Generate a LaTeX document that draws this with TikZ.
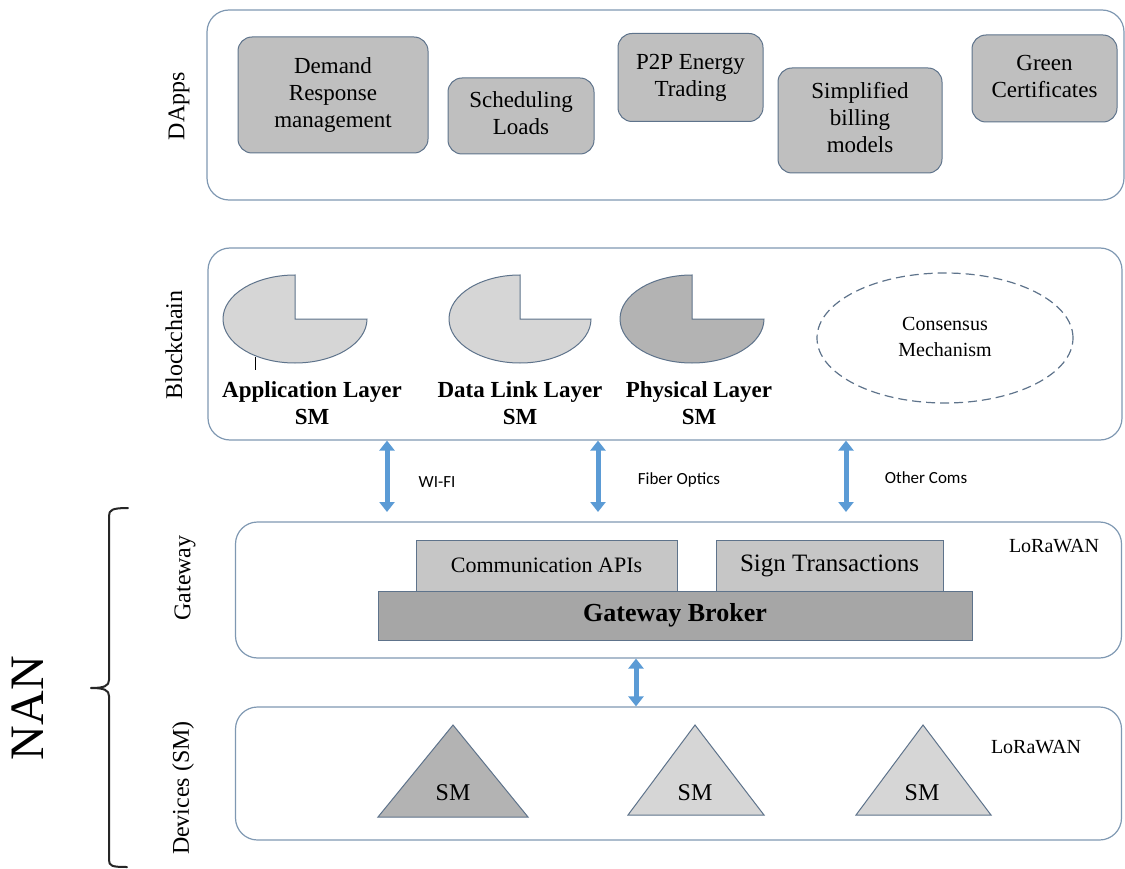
\documentclass[tikz,border=0pt]{standalone}
\usepackage{fontspec}
\setmainfont{Liberation Serif}
\setsansfont{Carlito}
\usetikzlibrary{arrows.meta,shapes.geometric}
\definecolor{outerc}{HTML}{7F98B2}
\definecolor{innerc}{HTML}{5E738B}
\definecolor{boxfill}{HTML}{BFBFBF}
\definecolor{lightfill}{HTML}{D6D6D6}
\definecolor{midfill}{HTML}{B3B3B3}
\definecolor{arrowc}{HTML}{5B9BD5}
\definecolor{brokerfill}{HTML}{A6A6A6}
\definecolor{apifill}{HTML}{C6C6C6}
\newcommand{\stk}[1]{\begin{tabular}{@{}c@{}}#1\end{tabular}}
\begin{document}
\begin{tikzpicture}[x=1pt,y=-1pt,
  layer/.style={draw=outerc, line width=1.2pt, rounded corners=22pt, inner sep=0pt},
  appbox/.style={draw=innerc, fill=boxfill, line width=1pt, rounded corners=14pt, inner sep=0pt, font=\rmfamily\fontsize{23}{27}\selectfont},
  side/.style={rotate=90, font=\rmfamily\fontsize{24}{28}\selectfont},
  piece/.style={draw=innerc, line width=1pt},
  lbl/.style={font=\rmfamily\bfseries\fontsize{23}{27}\selectfont},
  comlbl/.style={font=\sffamily\fontsize{17}{20}\selectfont},
  apibox/.style={draw=innerc, fill=apifill, line width=0.8pt, inner sep=0pt},
  biarrow/.style={draw=arrowc, line width=5pt, {Triangle[length=10pt,width=15pt]}-{Triangle[length=10pt,width=15pt]}},
  lora/.style={font=\rmfamily\fontsize{20}{24}\selectfont}
]
\useasboundingbox (0,0) rectangle (1125,869);

% layers
\node[layer, minimum width=917pt, minimum height=190pt] (dapps) at (665.5,105) {};
\node[layer, minimum width=914pt, minimum height=192pt] (blk) at (665,344) {};
\node[layer, minimum width=886pt, minimum height=136pt] (gw) at (678.5,590) {};
\node[layer, minimum width=886pt, minimum height=133pt] (dev) at (678.5,773.5) {};

% side labels
\node[side] (lbdapps) at (179,106) {DApps};
\node[side] (lbblk) at (174,345) {Blockchain};
\node[side] (lbgw) at (185,578) {Gateway};
\node[side] (lbdev) at (183,788) {Devices (SM)};

% DApps
\node[appbox, minimum width=190pt, minimum height=116pt] (dr) at (333,95) {\stk{Demand\\Response\\management}};
\node[appbox, minimum width=146pt, minimum height=76pt] (sl) at (521,116) {\stk{Scheduling\\Loads}};
\node[appbox, minimum width=145pt, minimum height=88pt] (pp) at (690.5,77.5) {\stk{P2P Energy\\Trading}};
\node[appbox, minimum width=164pt, minimum height=105pt] (sb) at (860,120.5) {\stk{Simplified\\billing\\models}};
\node[appbox, minimum width=145pt, minimum height=87pt] (gc) at (1044.5,78.5) {\stk{Green\\Certificates}};

% Blockchain pieces
\draw[piece, fill=lightfill] (295,319) -- ++(0,-44) arc[start angle=90, end angle=360, x radius=72pt, y radius=44pt] -- cycle;
\draw[piece, fill=lightfill] (520,319) -- ++(0,-44) arc[start angle=90, end angle=360, x radius=71pt, y radius=44pt] -- cycle;
\draw[piece, fill=midfill] (692,319) -- ++(0,-44) arc[start angle=90, end angle=360, x radius=72pt, y radius=44pt] -- cycle;
\coordinate (tick1) at (255,357);
\coordinate (tick2) at (255,370);
\draw[black, line width=0.8pt] (tick1) -- (tick2);
\node[lbl] (applbl) at (312,406) {\stk{Application Layer\\SM}};
\node[lbl] (dllbl) at (520,406) {\stk{Data Link Layer\\SM}};
\node[lbl] (phlbl) at (699,406) {\stk{Physical Layer\\SM}};
\node[ellipse, draw=innerc, line width=1.2pt, dash pattern=on 9pt off 5pt, minimum width=256pt, minimum height=130pt, font=\rmfamily\fontsize{20}{26}\selectfont] (cons) at (945,338) {\stk{Consensus\\Mechanism}};

% comm arrows
\coordinate (e1) at (387,512);
\coordinate (e2) at (598,512);
\coordinate (e3) at (846,512);
\draw[biarrow] (blk.south -| e1) -- (e1);
\draw[biarrow] (blk.south -| e2) -- (e2);
\draw[biarrow] (blk.south -| e3) -- (e3);
\node[comlbl] (wifi) at (437,482) {WI-FI};
\node[comlbl] (fiber) at (679,480) {Fiber Optics};
\node[comlbl] (other) at (926,478) {Other Coms};

% gateway
\node[apibox, minimum width=261pt, minimum height=51pt, font=\rmfamily\fontsize{22}{26}\selectfont] (capi) at (546.5,565.5) {Communication APIs};
\node[apibox, minimum width=227pt, minimum height=51pt, font=\rmfamily\fontsize{25}{28}\selectfont] (sign) at (829.5,565.5) {Sign Transactions};
\node[apibox, fill=brokerfill, minimum width=594pt, minimum height=49pt, font=\rmfamily\bfseries\fontsize{26}{30}\selectfont] (gb) at (675,615.5) {Gateway Broker};
\node[lora] (lw1) at (1054,546) {LoRaWAN};

% gateway-devices arrow
\coordinate (g1) at (636,0);
\draw[biarrow] (gw.south -| g1) -- (dev.north -| g1);

% devices
\draw[piece, fill=midfill] (453,725) -- (528,817) -- (378,817) -- cycle;
\draw[piece, fill=lightfill] (695,725) -- (764,815) -- (628,815) -- cycle;
\draw[piece, fill=lightfill] (923,725) -- (991,815) -- (856,815) -- cycle;
\node[font=\rmfamily\fontsize{24}{28}\selectfont] (sm1) at (453,793) {SM};
\node[font=\rmfamily\fontsize{24}{28}\selectfont] (sm2) at (695,793) {SM};
\node[font=\rmfamily\fontsize{24}{28}\selectfont] (sm3) at (922,793) {SM};
\node[lora] (lw2) at (1036,747) {LoRaWAN};

% NAN brace
\draw[line width=2pt, black!85, line cap=round, line join=round]
  (128,508) .. controls (112,508) and (109,510) .. (109,516) -- (109,680)
  .. controls (109,686) and (104,688) .. (91,688)
  .. controls (104,688) and (109,690) .. (109,696) -- (109,860)
  .. controls (109,866) and (112,867) .. (127,867);
\node[rotate=90, font=\rmfamily\fontsize{48}{48}\selectfont] (nan) at (28,708) {NAN};
\end{tikzpicture}
\end{document}
